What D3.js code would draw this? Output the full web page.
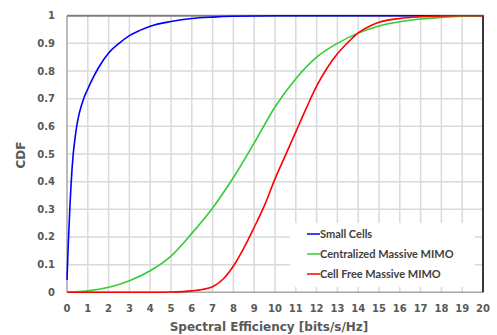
<!DOCTYPE html>
<html>
<head>
<meta charset="utf-8">
<script src="https://cdn.jsdelivr.net/npm/d3@7"></script>
<style>
  body { margin: 0; background: #fff; }
  svg { display: block; }
  .tick-label { font-family: "DejaVu Sans", Verdana, sans-serif; font-weight: bold; font-size: 10px; fill: #595959; }
  .axis-title { font-family: "DejaVu Sans", Verdana, sans-serif; font-weight: bold; font-size: 12px; fill: #595959; }
  .legend-label { font-family: Lato, "Open Sans", sans-serif; font-weight: bold; font-size: 11px; fill: #404040; }
</style>
</head>
<body>
<svg id="chart" width="497" height="335"></svg>
<script>
// values
const xTicks = d3.range(0, 21)
const yTicks = d3.range(0, 11).map((i) => i / 10)
const yTickLabels = ['0', '0.1', '0.2', '0.3', '0.4', '0.5', '0.6', '0.7', '0.8', '0.9', '1']

const seriesNames = ['Small Cells', 'Centralized Massive MIMO', 'Cell Free Massive MIMO']
const seriesColors = ['#0000ff', '#33cc33', '#ff0000']

const smallCellsX = [0, 0.05, 0.1, 0.15, 0.2, 0.3, 0.4, 0.5, 0.6, 0.8, 1, 1.25, 1.5, 2, 2.5, 3, 3.5, 4, 5, 6, 7, 8, 10, 20]
const smallCellsY = [0.045, 0.15, 0.24, 0.325, 0.395, 0.5, 0.565, 0.615, 0.65, 0.7, 0.735, 0.775, 0.81, 0.865, 0.9, 0.928, 0.947, 0.962, 0.979, 0.99, 0.995, 0.998, 1, 1]

const centralizedX = [0, 1, 2, 3, 4, 5, 6, 7, 8, 9, 10, 11, 12, 13, 14, 15, 16, 17, 18, 19, 20]
const centralizedY = [0, 0.005, 0.018, 0.042, 0.078, 0.131, 0.213, 0.305, 0.415, 0.54, 0.67, 0.772, 0.85, 0.9, 0.937, 0.963, 0.978, 0.988, 0.994, 0.998, 1]

const cellFreeX = [0, 4, 5, 6, 6.5, 7, 7.5, 8, 8.5, 9, 9.5, 10, 10.5, 11, 11.5, 12, 12.5, 13, 13.5, 14, 14.5, 15, 16, 17, 18, 19, 20]
const cellFreeY = [0, 0, 0.001, 0.005, 0.01, 0.02, 0.047, 0.095, 0.16, 0.235, 0.315, 0.41, 0.495, 0.58, 0.665, 0.745, 0.81, 0.862, 0.903, 0.938, 0.96, 0.976, 0.99, 0.996, 0.999, 1, 1]

const seriesX = [smallCellsX, centralizedX, cellFreeX]
const seriesY = [smallCellsY, centralizedY, cellFreeY]

const svg = d3.select('#chart')
const plotLeft = 67, plotRight = 483, plotTop = 15.7, plotBottom = 292.3

const x = d3.scaleLinear().domain([0, 20]).range([plotLeft, plotRight])
const y = d3.scaleLinear().domain([0, 1]).range([plotBottom, plotTop])

// grid
svg.append('g')
	.selectAll('line')
	.data(xTicks.slice(1))
	.join('line')
		.attr('x1', (d) => x(d)).attr('x2', (d) => x(d))
		.attr('y1', plotTop).attr('y2', plotBottom)
		.attr('stroke', '#d9d9d9').attr('stroke-width', 1.5)

svg.append('g')
	.selectAll('line')
	.data(yTicks.slice(1, -1))
	.join('line')
		.attr('x1', plotLeft).attr('x2', plotRight)
		.attr('y1', (d) => y(d)).attr('y2', (d) => y(d))
		.attr('stroke', '#d9d9d9').attr('stroke-width', 1.5)

// frame
svg.append('line')
	.attr('x1', plotLeft).attr('x2', plotLeft).attr('y1', plotTop).attr('y2', plotBottom)
	.attr('stroke', '#a6a6a6').attr('stroke-width', 1.5)
svg.append('line')
	.attr('x1', plotLeft).attr('x2', plotRight).attr('y1', y(0)).attr('y2', y(0))
	.attr('stroke', '#a6a6a6').attr('stroke-width', 1.5)
svg.append('line')
	.attr('x1', plotLeft).attr('x2', plotRight + 1).attr('y1', y(1)).attr('y2', y(1))
	.attr('stroke', '#7f7f7f').attr('stroke-width', 2)
svg.append('line')
	.attr('x1', plotRight).attr('x2', plotRight).attr('y1', plotTop).attr('y2', plotBottom)
	.attr('stroke', '#000').attr('stroke-width', 1.5)

// tick labels
svg.append('g')
	.selectAll('text')
	.data(yTicks)
	.join('text')
		.attr('class', 'tick-label')
		.attr('x', 55)
		.attr('y', (d) => y(d) + 3.5)
		.attr('text-anchor', 'end')
		.text((d, i) => yTickLabels[i])

svg.append('g')
	.selectAll('text')
	.data(xTicks)
	.join('text')
		.attr('class', 'tick-label')
		.attr('x', (d) => x(d))
		.attr('y', 312)
		.attr('text-anchor', 'middle')
		.text((d) => d)

svg.append('text')
	.attr('class', 'axis-title')
	.attr('x', 269).attr('y', 331)
	.attr('text-anchor', 'middle')
	.text('Spectral Efficiency [bits/s/Hz]')

svg.append('text')
	.attr('class', 'axis-title')
	.attr('transform', 'translate(25,155) rotate(-90)')
	.attr('text-anchor', 'middle')
	.text('CDF')

// curves
const line = d3.line()
	.x((d) => x(d[0]))
	.y((d) => y(d[1]))
	.curve(d3.curveMonotoneX)

svg.append('g')
	.selectAll('path')
	.data(seriesNames.map((name, i) => seriesX[i].map((v, j) => [v, seriesY[i][j]])))
	.join('path')
		.attr('d', line)
		.attr('fill', 'none')
		.attr('stroke', (d, i) => seriesColors[i])
		.attr('stroke-width', 1.6)

// legend
const legend = svg.append('g')
legend.append('rect')
	.attr('x', 290).attr('y', 223).attr('width', 185).attr('height', 64)
	.attr('fill', '#fff')

const entries = legend.selectAll('g')
	.data(seriesNames)
	.join('g')
		.attr('transform', (d, i) => 'translate(0,' + (234 + i * 20) + ')')

entries.append('line')
	.attr('x1', 307).attr('x2', 320)
	.attr('stroke', (d, i) => seriesColors[i])
	.attr('stroke-width', 1.5)

entries.append('text')
	.attr('class', 'legend-label')
	.attr('x', 320).attr('y', 4)
	.text((d) => d)
</script>
</body>
</html>
